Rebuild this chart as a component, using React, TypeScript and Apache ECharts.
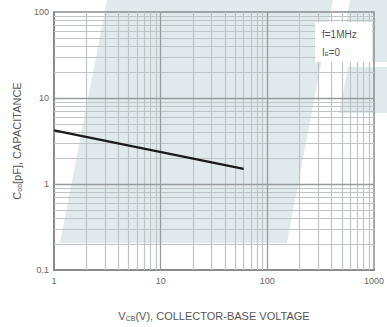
import React, { useEffect, useRef } from "react";
import * as echarts from "echarts";

const xTicks = [1, 10, 100, 1000];
const yTicks = [0.1, 1, 10, 100];
const voltage = [1, 60];
const capacitance = [4.2, 1.5];
const noteLines = ["f=1MHz", "I{s|E}=0"];

const minorX: number[] = [];
for (let d = 1; d < 1000; d *= 10) for (let k = 2; k <= 9; k++) minorX.push(k * d);
const minorY: number[] = [];
for (let d = 0.1; d < 100; d *= 10) for (let k = 2; k <= 9; k++) minorY.push(+(k * d).toPrecision(3));

export default function App() {
  const ref = useRef<HTMLDivElement>(null);
  useEffect(() => {
    const chart = echarts.init(ref.current!, null, { renderer: "svg" });
    const font = "'Liberation Sans', Arial, sans-serif";
    const shade = "#e0eaec";
    const minorStyle = { color: "#c0c4c5", width: 1.2, type: "solid" as const };
    const majorStyle = { color: "#989b9c", width: 1.3, type: "solid" as const };
    const gridLines: any[] = [
      ...minorX.map((v) => ({ xAxis: v, lineStyle: minorStyle })),
      ...minorY.map((v) => ({ yAxis: v, lineStyle: minorStyle })),
      ...xTicks.slice(1, -1).map((v) => ({ xAxis: v, lineStyle: majorStyle })),
      ...yTicks.slice(1, -1).map((v) => ({ yAxis: v, lineStyle: majorStyle })),
    ];
    const fmt = (v: number) => {
      const i = xTicks.concat(yTicks).find((t) => Math.abs(t - v) / t < 1e-6);
      return i !== undefined ? String(i) : String(v);
    };
    chart.setOption({
      animation: false,
      backgroundColor: "#ffffff",
      grid: { left: 54, right: 13, top: 12, bottom: 54, show: true, borderColor: "#8c8c8c", borderWidth: 1.5, backgroundColor: "transparent" },
      xAxis: {
        type: "log",
        logBase: 10,
        min: 1,
        max: 1000,
        axisLine: { show: true, lineStyle: { color: "#8c8c8c", width: 2 } },
        axisTick: { show: false },
        splitLine: { show: false },
        axisLabel: { color: "#666", fontSize: 9, fontFamily: font, margin: 6, formatter: fmt },
        name: "V{s|CB}(V), COLLECTOR-BASE VOLTAGE",
        nameLocation: "middle",
        nameGap: 40,
        nameTextStyle: {
          color: "#555",
          fontSize: 11,
          fontFamily: font,
          rich: { s: { fontSize: 7, fontFamily: font, color: "#555", padding: [5, 0, 0, 0] } },
        },
      },
      yAxis: {
        type: "log",
        logBase: 10,
        min: 0.1,
        max: 100,
        axisLine: { show: true, lineStyle: { color: "#8c8c8c", width: 2 } },
        axisTick: { show: false },
        splitLine: { show: false },
        axisLabel: { color: "#666", fontSize: 9, fontFamily: font, margin: 5, formatter: fmt },
        name: "C{s|ob}[pF], CAPACITANCE",
        nameLocation: "middle",
        nameGap: 30,
        nameTextStyle: {
          color: "#555",
          fontSize: 11,
          fontFamily: font,
          rich: { s: { fontSize: 7, fontFamily: font, color: "#555", padding: [5, 0, 0, 0] } },
        },
      },
      graphic: [
        { type: "polygon", z: -10, silent: true, shape: { points: [[107, 0], [333, 0], [287, 243], [60, 243]] }, style: { fill: shade } },
        { type: "polygon", z: -10, silent: true, shape: { points: [[350, 0], [387, 0], [387, 62], [339, 62]] }, style: { fill: shade } },
        { type: "polygon", z: -10, silent: true, shape: { points: [[348, 67], [387, 67], [387, 113], [339, 113]] }, style: { fill: shade } },
        { type: "rect", z: 50, silent: true, shape: { x: 315, y: 22, width: 57, height: 40 }, style: { fill: "#ffffff" } },
        {
          type: "text",
          z: 60,
          left: 322,
          top: 29,
          style: { text: noteLines[0], fill: "#555", fontSize: 10, fontFamily: font },
        },
        {
          type: "text",
          z: 60,
          left: 322,
          top: 47,
          style: {
            text: noteLines[1],
            fill: "#555",
            fontSize: 10,
            fontFamily: font,
            rich: { s: { fontSize: 6, fill: "#555", fontFamily: font, padding: [4, 0, 0, 0] } },
          },
        },
      ],
      series: [
        {
          type: "line",
          data: voltage.map((v, i) => [v, capacitance[i]]),
          showSymbol: false,
          lineStyle: { color: "#1a1a1a", width: 2.2 },
          z: 20,
          markLine: {
            silent: true,
            symbol: "none",
            label: { show: false },
            data: gridLines,
          },
        },
      ],
    });
    return () => chart.dispose();
  }, []);
  return <div ref={ref} style={{ width: 387, height: 327, position: "absolute", left: 0, top: 0 }} />;
}
